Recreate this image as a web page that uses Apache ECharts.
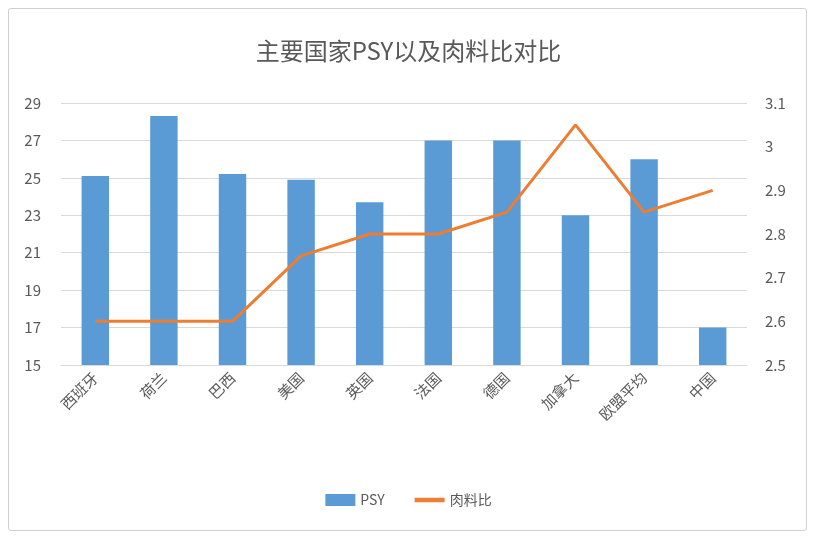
<!DOCTYPE html>
<html><head><meta charset="utf-8">
<script src="https://cdn.jsdelivr.net/npm/echarts@6/dist/echarts.min.js"></script>
<style>html,body{margin:0;padding:0;background:#fff}#c{width:817px;height:547px}
#b{position:absolute;left:8px;top:8px;width:797px;height:521px;border:1px solid #d0d0d0;border-radius:3px;pointer-events:none}</style>
</head><body><div id="c"></div><div id="b"></div>
<script>
const categories=['西班牙','荷兰','巴西','美国','英国','法国','德国','加拿大','欧盟平均','中国'];
const psy=[25.1,28.3,25.2,24.9,23.7,27,27,23,26,17];
const ratio=[2.6,2.6,2.6,2.75,2.8,2.8,2.85,3.05,2.85,2.9];
const leftTicks=[15,17,19,21,23,25,27,29];
const rightTicks=[2.5,2.6,2.7,2.8,2.9,3,3.1];
const font='"Noto Sans CJK SC","Noto Sans",sans-serif';
const chart=echarts.init(document.getElementById('c'));
chart.setOption({
  animation:false,
  textStyle:{fontFamily:font},
  title:{text:'主要国家PSY以及肉料比对比',left:'center',top:34,textStyle:{fontSize:24,fontWeight:'normal',color:'#595959',fontFamily:font}},
  legend:{bottom:35,itemGap:30,textStyle:{color:'#595959',fontSize:14},
    data:[{name:'PSY',icon:'rect',itemStyle:{color:'#5B9BD5'}},{name:'肉料比',icon:'path://M0,0H20V3H0Z'}],
    itemWidth:30,itemHeight:12},
  grid:{left:61,right:70,top:103,bottom:182},
  xAxis:{type:'category',data:categories,axisTick:{show:false},axisLine:{lineStyle:{color:'#d9d9d9'}},
    axisLabel:{rotate:45,color:'#595959',fontSize:15,margin:10}},
  yAxis:[
    {type:'value',min:leftTicks[0],max:leftTicks[leftTicks.length-1],interval:2,
     axisLabel:{color:'#595959',fontSize:15,margin:20},splitLine:{lineStyle:{color:'#d9d9d9'}},axisLine:{show:false},axisTick:{show:false}},
    {type:'value',min:rightTicks[0],max:rightTicks[rightTicks.length-1],interval:0.1,
     axisLabel:{color:'#595959',fontSize:15,margin:18,formatter:v=>String(+v.toFixed(1))},splitLine:{show:false},axisLine:{show:false},axisTick:{show:false}}
  ],
  series:[
    {name:'PSY',type:'bar',data:psy,barWidth:'40%',itemStyle:{color:'#5B9BD5'}},
    {name:'肉料比',type:'line',yAxisIndex:1,data:ratio,symbol:'none',lineStyle:{color:'#ED7D31',width:3},itemStyle:{color:'#ED7D31'}}
  ]
});
</script></body></html>
